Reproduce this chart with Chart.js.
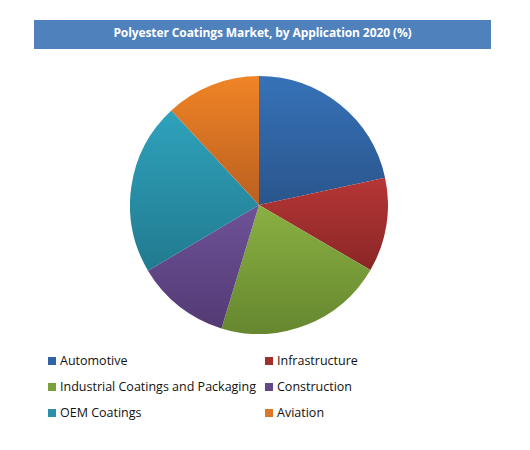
<!DOCTYPE html>
<html>
<head>
<meta charset="utf-8">
<script src="https://cdn.jsdelivr.net/npm/chart.js@4"></script>
<style>
body { margin: 0; background: #fff; width: 530px; height: 450px; position: relative; overflow: hidden; font-family: "Open Sans", "Liberation Sans", sans-serif; }
#title { position: absolute; left: 34px; top: 20px; width: 457px; height: 29px; background: #4F81BD; color: #fff; font-weight: bold; font-size: 12px; letter-spacing: -0.1px; text-align: center; line-height: 25px; }
#pieBox { position: absolute; left: 130px; top: 76px; width: 258px; height: 258px; }
#legend { position: absolute; left: 0; top: 0; }
.item { position: absolute; font-size: 12.5px; color: #111; white-space: nowrap; line-height: 16px; }
.item span { display: inline-block; width: 8px; height: 8px; margin-right: 4px; vertical-align: 0px; }
</style>
</head>
<body>
<div id="title">Polyester Coatings Market, by Application 2020 (%)</div>
<div id="pieBox"><canvas id="pieChart" width="258" height="258"></canvas></div>
<div id="legend"></div>
<script>
const labels = ["Automotive", "Infrastructure", "Industrial Coatings and Packaging", "Construction", "OEM Coatings", "Aviation"];
const shares = [21.6, 11.8, 21.3, 11.8, 21.6, 11.9];
const topColors = ["#3672B8", "#B63636", "#8AB042", "#6E5298", "#2FA2BC", "#F08426"];
const bottomColors = ["#2A558C", "#8A2626", "#66872F", "#533A74", "#217A8F", "#BA6020"];
const legendColors = ["#2F63A3", "#A32E2E", "#79A03A", "#634787", "#2990A8", "#DE7623"];

// legend grid: column x, row y
const legendCols = [48, 265];
const legendRows = [353, 379, 405];

let pieChart = null;

function sliceGradient(context) {
    const chart = context.chart;
    const i = context.dataIndex;
    const area = chart.chartArea;
    if (!area || i === undefined) return topColors[i || 0];
    const cx = (area.left + area.right) / 2;
    const cy = (area.top + area.bottom) / 2;
    const r = Math.min(area.width, area.height) / 2;
    const total = shares.reduce((a, b) => a + b, 0);
    let before = 0;
    for (let k = 0; k < i; k++) before += shares[k];
    const start = -Math.PI / 2 + 2 * Math.PI * before / total;
    const end = start + 2 * Math.PI * shares[i] / total;
    const ys = [cy, cy + r * Math.sin(start), cy + r * Math.sin(end)];
    // include top / bottom extremes if the arc passes them
    [-Math.PI / 2, Math.PI / 2, 3 * Math.PI / 2].forEach(a => {
        if (a >= start && a <= end) ys.push(cy + r * Math.sin(a));
    });
    const y0 = Math.min(...ys);
    const y1 = Math.max(...ys);
    const g = chart.ctx.createLinearGradient(0, y0, 0, y1 + 0.01);
    g.addColorStop(0, topColors[i]);
    g.addColorStop(1, bottomColors[i]);
    return g;
}

function drawPie() {
    const ctx = document.getElementById("pieChart").getContext("2d");
    if (pieChart) pieChart.destroy();
    pieChart = new Chart(ctx, {
        type: "pie",
        data: {
            labels,
            datasets: [
                {
                    data: shares,
                    backgroundColor: sliceGradient,
                    borderWidth: 0
                }
            ]
        },
        options: {
            responsive: false,
            animation: false,
            layout: { padding: 0 },
            plugins: {
                legend: { display: false },
                tooltip: { enabled: false }
            }
        }
    });
}

function drawLegend() {
    const box = document.getElementById("legend");
    labels.forEach((name, i) => {
        const div = document.createElement("div");
        div.className = "item";
        div.style.left = legendCols[i % 2] + "px";
        div.style.top = legendRows[Math.floor(i / 2)] + "px";
        div.innerHTML = '<span style="background:' + legendColors[i] + '"></span>' + name;
        box.appendChild(div);
    });
}

drawPie();
drawLegend();
</script>
</body>
</html>
